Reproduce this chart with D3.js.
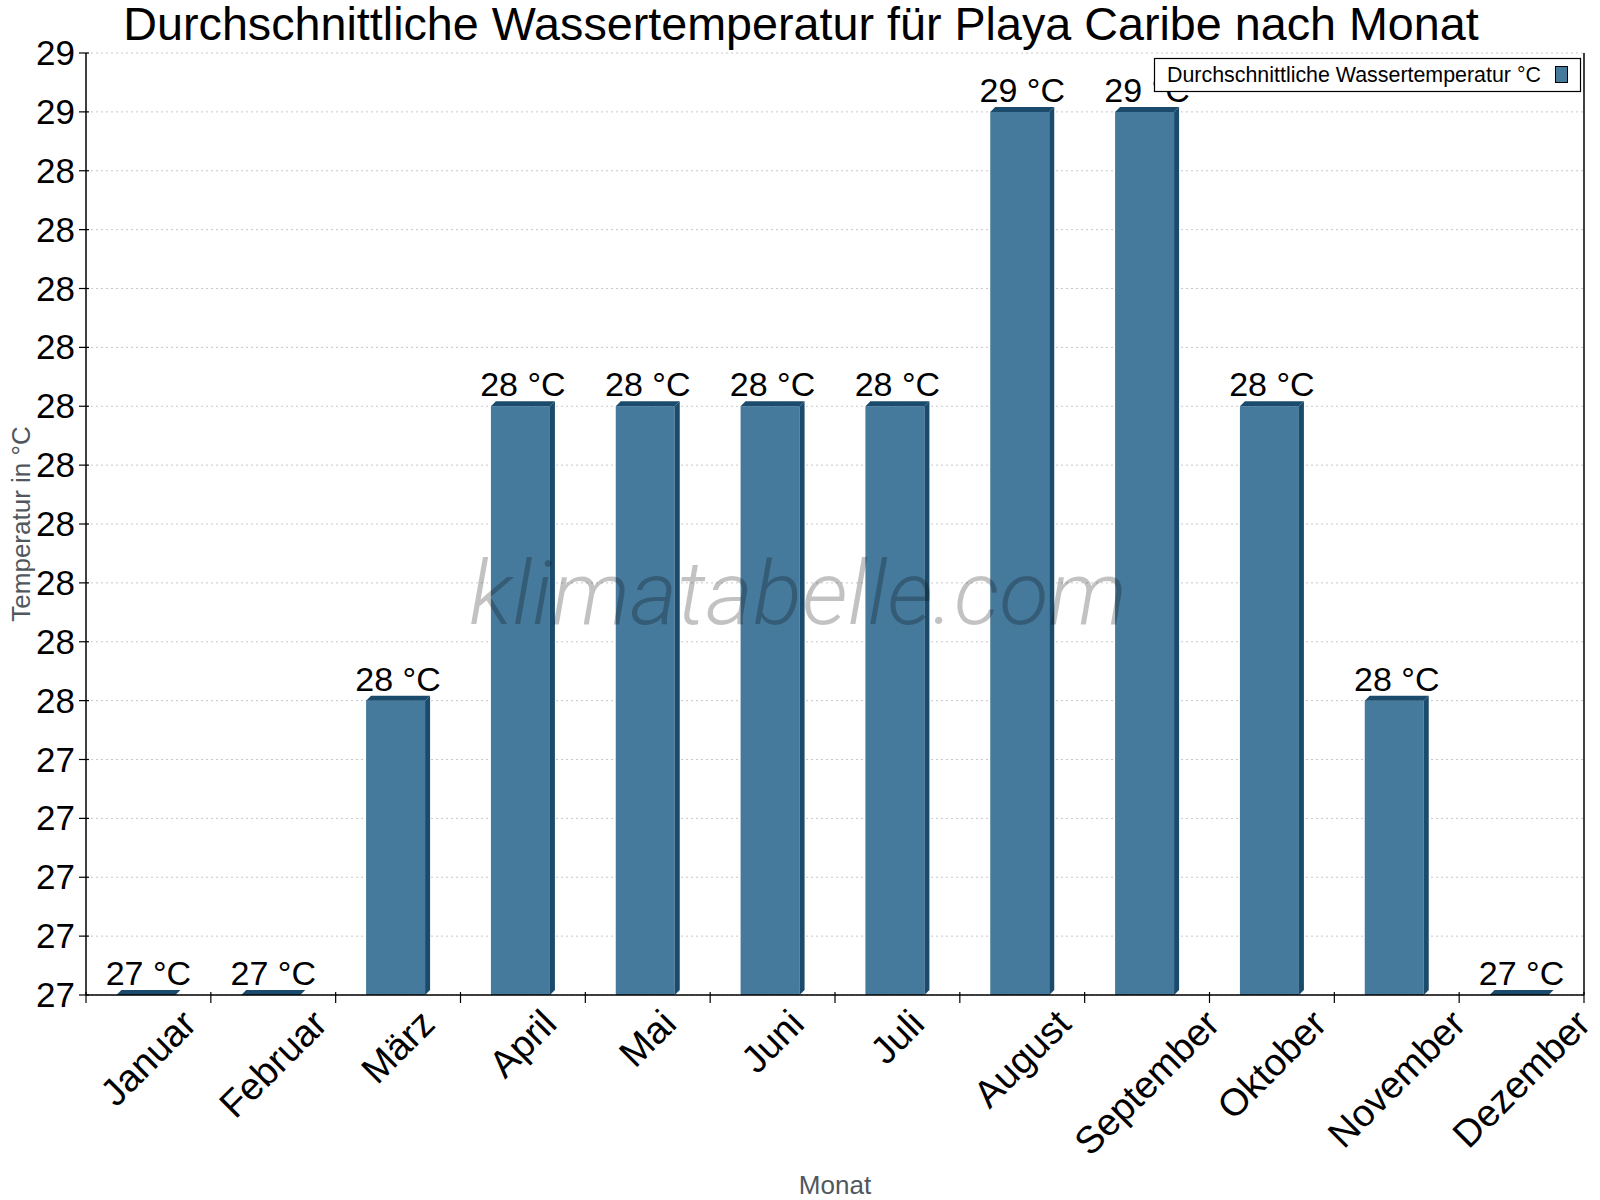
<!DOCTYPE html>
<html><head><meta charset="utf-8">
<script src="https://cdn.jsdelivr.net/npm/d3@7"></script>
<style>body{margin:0;background:#fff}svg{display:block}text{font-family:"Liberation Sans",Arial,sans-serif}</style>
</head><body>
<svg id="c" width="1600" height="1200"></svg>
<script>
const months = ["Januar","Februar","März","April","Mai","Juni","Juli","August","September","Oktober","November","Dezember"];
const waterTemp = [27.0,27.0,27.5,28.0,28.0,28.0,28.0,28.5,28.5,28.0,27.5,27.0];
const yTicks = [27.0,27.1,27.2,27.3,27.4,27.5,27.6,27.7,27.8,27.9,28.0,28.1,28.2,28.3,28.4,28.5,28.6];
const titleText = "Durchschnittliche Wassertemperatur für Playa Caribe nach Monat";
const legendText = "Durchschnittliche Wassertemperatur °C";

const svg = d3.select("#c");
const L = 86, R = 1584, T = 53, B = 995;
const x = d3.scaleBand().domain(months).range([L, R]).padding(0);
const y = d3.scaleLinear().domain([27.0, 28.6]).range([B, T]);
const front = "#467a9c", dark = "#1b4b6c";

// grid
svg.append("g").selectAll("line").data(yTicks).join("line")
  .attr("x1", L).attr("x2", R).attr("y1", d => y(d)).attr("y2", d => y(d))
  .attr("stroke", "#c8c8c8").attr("stroke-dasharray", "2,3").attr("stroke-width", 1);

// bars
const w = 59, dp = 5;
const bw = x.bandwidth();
const bars = svg.append("g");
months.forEach((m, i) => {
  const v = waterTemp[i];
  const cx = x(m) + bw / 2;
  const fl = cx - (w + dp) / 2;
  const top = y(v), y0 = y(27.0);
  if (y0 - top > 0.5) {
    bars.append("rect").attr("x", fl).attr("y", top).attr("width", w).attr("height", y0 - top).attr("fill", front);
    bars.append("polygon").attr("points", [[fl + w, top], [fl + w + dp, top - dp], [fl + w + dp, y0 - dp], [fl + w, y0]].join(" ")).attr("fill", dark);
  }
  bars.append("polygon").attr("points", [[fl, top], [fl + dp, top - dp], [fl + w + dp, top - dp], [fl + w, top]].join(" ")).attr("fill", dark);
  bars.append("text").attr("x", cx).attr("y", top - dp - 5).attr("text-anchor", "middle")
    .attr("font-size", 34).attr("fill", "#000").text(Math.round(v) + " °C");
});

// watermark
svg.append("text").attr("x", 798).attr("y", 624).attr("text-anchor", "middle")
  .style("font-family", "Roboto, 'Liberation Sans', sans-serif")
  .attr("font-size", 88).attr("font-style", "italic").attr("font-weight", 300)
  .attr("fill", "#000").attr("fill-opacity", 0.24)
  .attr("textLength", 658).attr("lengthAdjust", "spacingAndGlyphs")
  .text("klimatabelle.com");

// y axis
const ya = svg.append("g");
ya.append("line").attr("x1", L).attr("x2", L).attr("y1", T).attr("y2", B).attr("stroke", "#000").attr("stroke-width", 1.5);
ya.selectAll("line.t").data(yTicks).join("line").attr("class", "t")
  .attr("x1", L - 7).attr("x2", L + 3).attr("y1", d => y(d)).attr("y2", d => y(d)).attr("stroke", "#000").attr("stroke-width", 1.2);
ya.selectAll("text").data(yTicks).join("text")
  .attr("x", L - 11).attr("y", d => y(d) + 12).attr("text-anchor", "end").attr("font-size", 35)
  .text(d => Math.round(d));

// right border
svg.append("line").attr("x1", R).attr("x2", R).attr("y1", T).attr("y2", B).attr("stroke", "#000").attr("stroke-width", 1.5);

// x axis
const xa = svg.append("g");
xa.append("line").attr("x1", L).attr("x2", R).attr("y1", B).attr("y2", B).attr("stroke", "#000").attr("stroke-width", 1.5);
const bounds = months.map(m => x(m)).concat([R]);
xa.selectAll("line.t").data(bounds).join("line").attr("class", "t")
  .attr("x1", d => d).attr("x2", d => d).attr("y1", B - 3).attr("y2", B + 8).attr("stroke", "#000").attr("stroke-width", 1.2);
months.forEach(m => {
  const cx = x(m) + bw / 2;
  const t = xa.append("text").attr("font-size", 38).attr("text-anchor", "end").text(m);
  const len = t.node().getComputedTextLength();
  const k = Math.SQRT1_2;
  t.attr("transform", `translate(${cx + len / 2 * k + 9},${B + 31}) rotate(-45)`);
});

// axis titles
svg.append("text").attr("x", (L + R) / 2).attr("y", 1194).attr("text-anchor", "middle")
  .attr("font-size", 26).attr("fill", "#50575d").text("Monat");
svg.append("text").attr("transform", `translate(30,${(T + B) / 2}) rotate(-90)`).attr("text-anchor", "middle")
  .attr("font-size", 26).attr("fill", "#50575d").text("Temperatur in °C");

// title
svg.append("text").attr("x", 801).attr("y", 40).attr("text-anchor", "middle")
  .attr("font-size", 46.7).attr("fill", "#000").text(titleText);

// legend
const lg = svg.append("g");
lg.append("rect").attr("x", 1154.5).attr("y", 58.5).attr("width", 426).attr("height", 33).attr("fill", "#fff").attr("stroke", "#000").attr("stroke-width", 1.2);
lg.append("text").attr("x", 1167).attr("y", 82).attr("font-size", 21.4).text(legendText);
lg.append("rect").attr("x", 1555.5).attr("y", 66.5).attr("width", 12).attr("height", 16).attr("fill", front).attr("stroke", "#000").attr("stroke-width", 1);
</script>
</body></html>
